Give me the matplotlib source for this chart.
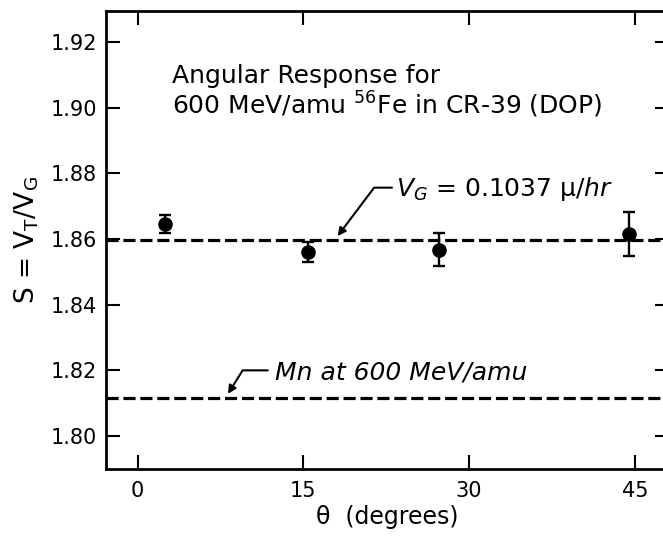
import numpy as np
import matplotlib
matplotlib.use('Agg')
import matplotlib.pyplot as plt

plt.rcParams['font.family'] = ['DejaVu Sans']
plt.rcParams['mathtext.fontset'] = 'dejavusans'

theta = [2.5, 15.4, 27.3, 44.5]
S = [1.8645, 1.8560, 1.8568, 1.8615]
S_err = [0.0028, 0.0030, 0.0049, 0.0068]

S_vg = 1.8597     # V_G = 0.1037 u/hr reference
S_mn = 1.8115     # Mn at 600 MeV/amu

xticks = [0, 15, 30, 45]
yticks = [1.80, 1.82, 1.84, 1.86, 1.88, 1.90, 1.92]

fig = plt.figure(figsize=(6.63, 5.39), dpi=100)
ax = fig.add_axes([106/663, 70/539, (669-106)/663, (528.3-70)/539])

ax.axhline(S_vg, color='black', lw=2.3, linestyle=(0, (3.8, 1.5)))
ax.axhline(S_mn, color='black', lw=2.3, linestyle=(0, (3.8, 1.5)))

ax.errorbar(theta, S, yerr=S_err, fmt='o', color='black', ms=9.5,
            elinewidth=1.7, capsize=4.5, capthick=1.7)

ax.set_xlim(-2.87, 48.1)
ax.set_ylim(1.7899, 1.9296)
ax.set_xticks(xticks)
ax.set_yticks(yticks)
ax.set_yticklabels(['%.2f' % v for v in yticks])
ax.tick_params(direction='in', length=10, width=1.5, labelsize=15,
               top=True, right=True)
ax.tick_params(axis='y', pad=6.5)
ax.tick_params(axis='x', pad=8.5)
for sp in ax.spines.values():
    sp.set_linewidth(2)

ax.set_xlabel('θ  (degrees)', fontsize=17, labelpad=3)
ax.set_ylabel(r'S = V$_{\rm T}$/V$_{\rm G}$', fontsize=19, labelpad=7)

ax.text(3.15, 1.9075, 'Angular Response for', fontsize=18, va='baseline')
ax.text(3.15, 1.8980, r'600 MeV/amu $^{56}$Fe in CR-39 (DOP)', fontsize=18,
        va='baseline')

ax.annotate(r'$V_G$ = 0.1037 μ/$hr$', xy=(18.1, 1.8609), xytext=(23.4, 1.8731),
            fontsize=18, va='baseline', ha='left',
            arrowprops=dict(arrowstyle='-|>', color='black', lw=1.5,
                            relpos=(0, 0.55), shrinkA=1, shrinkB=0,
                            mutation_scale=12,
                            connectionstyle='angle,angleA=0,angleB=53,rad=0'))
ax.annotate('Mn at 600 MeV/amu', xy=(8.17, 1.8128), xytext=(12.4, 1.8171),
            fontsize=18, va='baseline', ha='left', style='italic',
            arrowprops=dict(arrowstyle='-|>', color='black', lw=1.5,
                            relpos=(0, 0.6), shrinkA=3, shrinkB=0,
                            mutation_scale=12,
                            connectionstyle='angle,angleA=0,angleB=58,rad=0'))

fig.savefig('out.png', dpi=100)
